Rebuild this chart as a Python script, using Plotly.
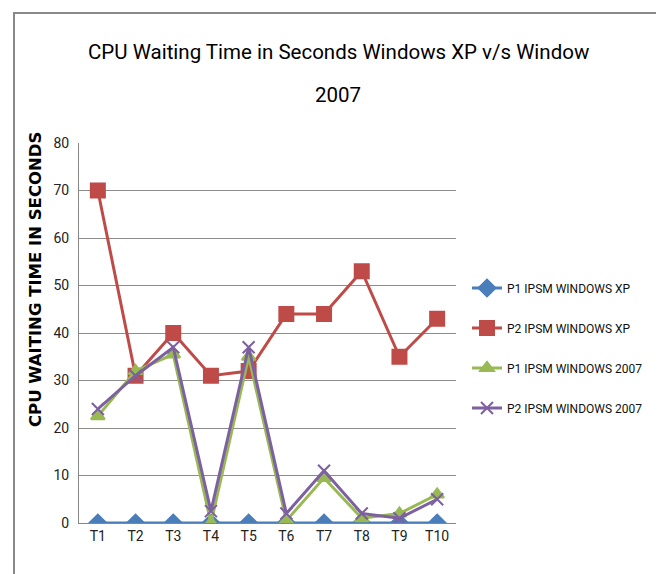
import plotly.graph_objects as go

categories = ["T1", "T2", "T3", "T4", "T5", "T6", "T7", "T8", "T9", "T10"]
p1_xp = [0, 0, 0, 0, 0, 0, 0, 0, 0, 0]
p2_xp = [70, 31, 40, 31, 32, 44, 44, 53, 35, 43]
p1_2007 = [22.5, 32, 35.5, 0, 35, 0.5, 9.5, 1, 2, 6]
p2_2007 = [24, 31, 37, 2.5, 37, 2, 11, 2, 1, 5]
y_ticks = [0, 10, 20, 30, 40, 50, 60, 70, 80]

FONT = "Roboto, sans-serif"
OFF = 8  # page body margin offset
W, H = 664, 574
PW, PH = 377, 380
L = 79 - OFF              # plot left in figure px
T = 143 - OFF             # plot top in figure px
B = H - T - PH


def px(x):
    return (x - OFF - L) / PW


def py(y):
    return (T + PH - (y - OFF)) / PH


series = [
    ("P1 IPSM WINDOWS XP", p1_xp, "#4A7EBB", "diamond", 13),
    ("P2 IPSM WINDOWS XP", p2_xp, "#BE4B48", "square", 14),
    ("P1 IPSM WINDOWS 2007", p1_2007, "#98B954", "triangle-up", 12),
    ("P2 IPSM WINDOWS 2007", p2_2007, "#7D60A0", "x-thin-open", 12),
]

fig = go.Figure()
for i, (name, vals, color, sym, size) in enumerate(series):
    fig.add_trace(go.Scatter(
        x=categories, y=vals, name=name, mode="lines+markers",
        legendgroup=str(i),
        line=dict(color=color, width=3),
        marker=dict(symbol=sym, size=size, color=color,
                    line=dict(color=color, width=2)),
    ))

fig.update_layout(
    width=W, height=H,
    margin=dict(l=L, r=W - L - PW, t=T, b=B),
    paper_bgcolor="white", plot_bgcolor="white",
    font=dict(family=FONT, color="#222222", size=14),
    showlegend=True,
    legend=dict(x=px(467), xanchor="left", y=py(348), yanchor="middle",
                font=dict(family=FONT, size=12, color="#111111"),
                tracegroupgap=21, itemwidth=30, bgcolor="rgba(0,0,0,0)"),
    xaxis=dict(type="category", range=[-0.5, 9.5], showgrid=False,
               showline=True, linecolor="#868686", linewidth=1,
               ticks="", tickfont=dict(size=14, family=FONT, color="#222222")),
    yaxis=dict(range=[0, 80], tickvals=y_ticks, showgrid=True,
               gridcolor="#8c8c8c", gridwidth=1, showline=True,
               linecolor="#868686", linewidth=1, zeroline=False, ticks="",
               ticklabelstandoff=6,
               tickfont=dict(size=14, family=FONT, color="#222222")),
    shapes=[dict(type="rect", xref="paper", yref="paper",
                 x0=px(14), x1=px(661), y0=py(600), y1=py(13),
                 line=dict(color="#888888", width=2), layer="below")],
    annotations=[
        dict(text="CPU Waiting Time in Seconds Windows XP v/s Window",
             xref="paper", yref="paper", x=px(338), y=py(52),
             xanchor="center", yanchor="middle", showarrow=False,
             font=dict(family=FONT, size=20.5, color="#000000")),
        dict(text="2007",
             xref="paper", yref="paper", x=px(338), y=py(95),
             xanchor="center", yanchor="middle", showarrow=False,
             font=dict(family=FONT, size=20.5, color="#000000")),
        dict(text="<b>CPU WAITING TIME IN SECONDS</b>",
             xref="paper", yref="paper", x=px(35), y=py(280),
             xanchor="center", yanchor="middle", showarrow=False, textangle=-90,
             font=dict(family="DejaVu Sans, sans-serif", size=16.5,
                       color="#000000")),
    ],
)

fig.write_html("out.html")
